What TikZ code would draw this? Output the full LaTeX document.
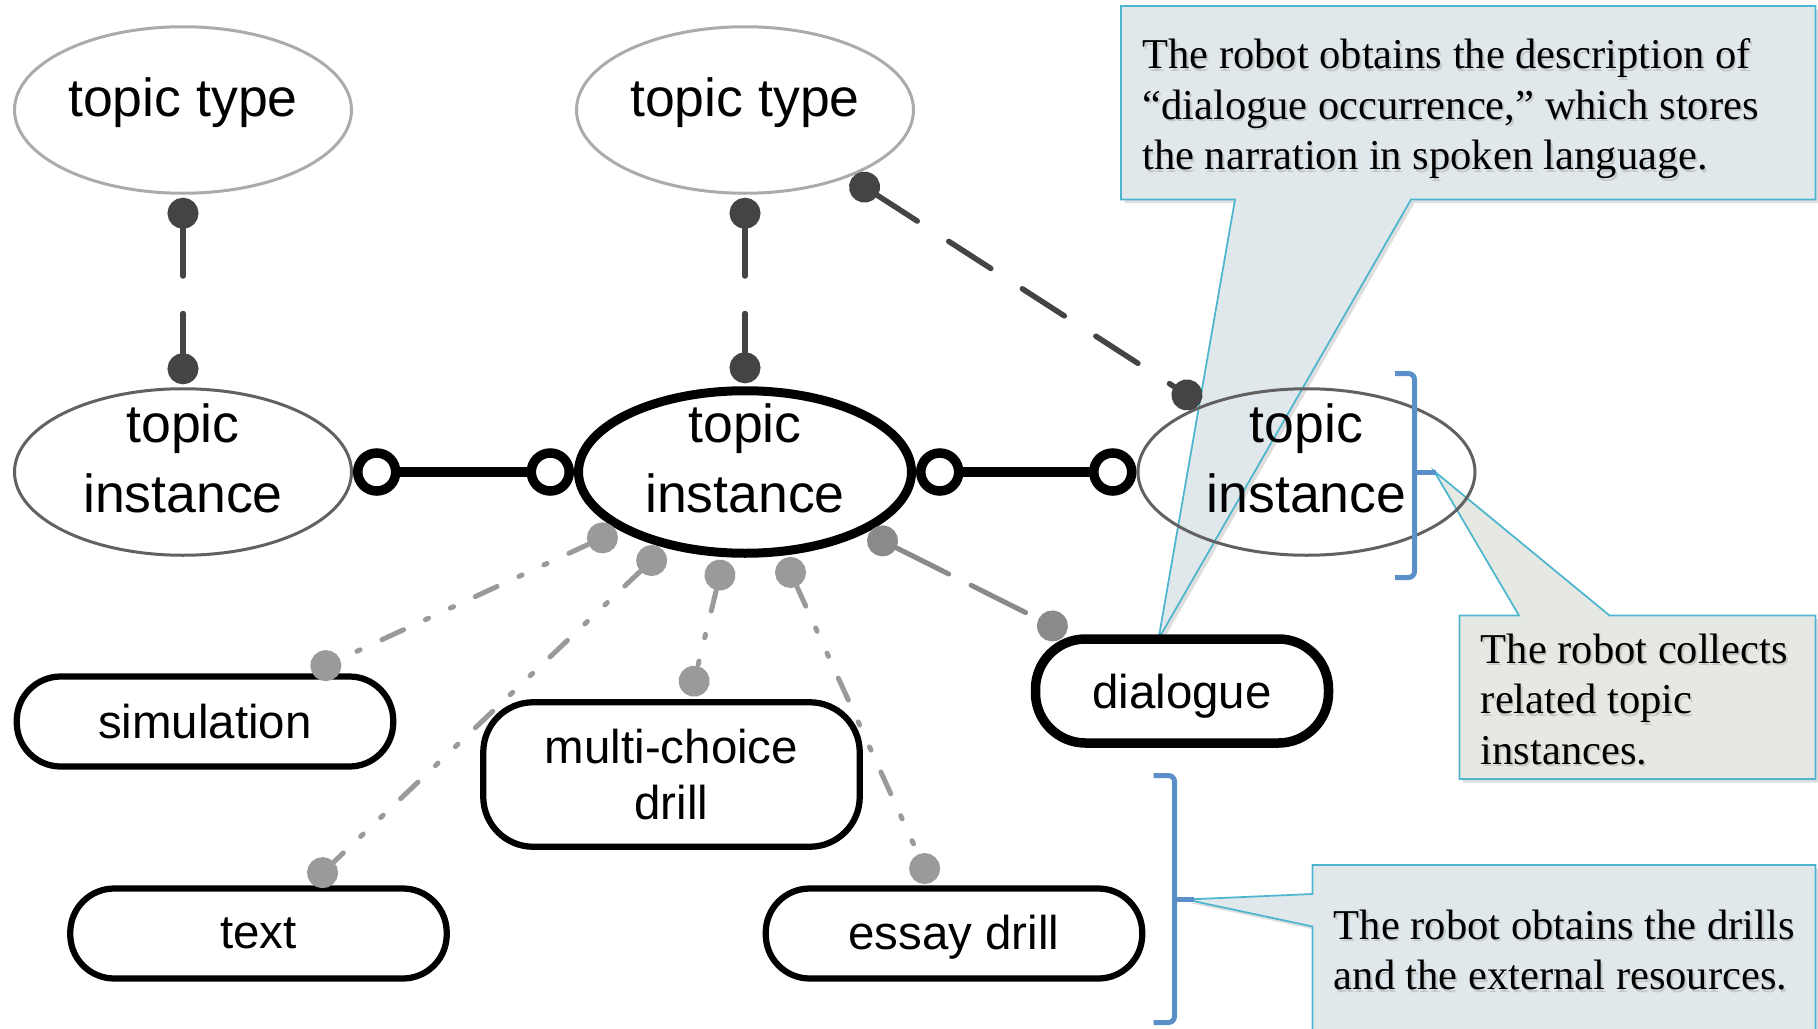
\documentclass[tikz,border=0pt]{standalone}
\usepackage{fontspec}
\setmainfont{Liberation Serif}
\setsansfont{Liberation Sans}
\usetikzlibrary{arrows.meta,shapes.geometric,calc,backgrounds}
\definecolor{linkdark}{HTML}{444444}
\definecolor{linklight}{HTML}{9A9A9A}
\definecolor{linkmid}{HTML}{8A8A8A}
\definecolor{notefill}{HTML}{E1E8EB}
\definecolor{notegreen}{HTML}{E6E9E3}
\definecolor{noteedge}{HTML}{4DB6CE}
\definecolor{braceblue}{HTML}{5B8FC9}
\tikzset{
 tm type/.style={ellipse,draw=black!33,line width=.06cm,minimum width=6.74cm,
   minimum height=3.33cm,inner sep=0pt,align=center,text depth=.5cm,
   font=\sffamily\fontsize{30.5}{39.5}\selectfont},
 tm inst/.style={tm type,draw=black!62,text depth=.56cm,inner ysep=-.3cm},
 tm focus/.style={tm inst,draw=black,line width=.18cm,minimum width=6.66cm,minimum height=3.25cm},
 tm res/.style={draw=black,line width=.125cm,rounded corners=.88cm,minimum width=7.53cm,
   minimum height=1.8cm,align=center,font=\sffamily\fontsize{27}{31.6}\selectfont},
 tm typing/.style={{Circle[length=.62cm]}-{Circle[length=.62cm]},draw=linkdark,
   line width=.11cm,line cap=round,dash pattern=on 1cm off .75cm,
   shorten <=.06cm,shorten >=.06cm},
 tm assoc/.style={{Circle[open,length=.95cm]}-{Circle[open,length=.95cm]},draw=black,
   line width=.19cm},
 tm occur/.style={{Circle[length=.62cm]}-{Circle[length=.62cm]},draw=linklight,
   line width=.1cm,line cap=round,
   dash pattern=on .48cm off .48cm on .07cm off .48cm on .07cm off .48cm,
   shorten <=.06cm,shorten >=.06cm},
 tm talk/.style={tm occur,draw=linkmid,dash pattern=on 1.22cm off .5cm},
 tm note/.style={draw=noteedge,line width=.035cm,fill=notefill,
   preaction={fill=black,opacity=.13,transform canvas={shift={(.07,-.07)}}}},
 tm note text/.style={anchor=base west,inner sep=0pt,align=left,
   font=\rmfamily\fontsize{24.2}{28.6}\selectfont},
 tm brace/.style={draw=braceblue,line width=.1cm,rounded corners=.12cm}
}
% note text with its soft shadow underneath (anchored at the last baseline)
\newcommand\notetext[3]{%
 \node[tm note text,text=black!50,opacity=.3,xshift=.035cm,yshift=-.05cm] at #1 {#3};
 \node[tm note text] (#2) at #1 {#3};}

\begin{document}
\begin{tikzpicture}[line join=round]
\useasboundingbox (0,0) rectangle (36.36,-20.58);
% types and instances
\node[tm type] (type1) at (3.66,-2.20) {topic type};
\node[tm type] (type2) at (14.90,-2.20) {topic type};
\node[tm inst] (inst1) at (3.66,-9.44) {topic\\instance};
\node[tm focus] (inst2) at (14.90,-9.44) {topic\\instance};
\node[tm inst] (inst3) at (26.13,-9.44) {topic\\instance};
% occurrences
\node[tm res] (sim) at (4.10,-14.43) {simulation};
\node[tm res,minimum height=2.89cm,rounded corners=1cm] (mcd) at (13.43,-15.49) {multi-choice\\drill};
\node[tm res] (txt) at (5.17,-18.67) {text};
\node[tm res,text height=.83cm] (essay) at (19.08,-18.67) {essay drill};
\node[tm res,line width=.19cm,minimum width=5.86cm,minimum height=2.08cm,
  rounded corners=1cm,text height=.88cm] (dlg) at (23.64,-13.82) {dialogue};

\draw[tm typing] (type1) -- (inst1);
\draw[tm typing] (type2) -- (inst2);
\draw[tm typing] (type2) -- (inst3);
\draw[tm assoc] (inst1) -- (inst2);
\draw[tm assoc] (inst2) -- (inst3);
\draw[tm occur] (inst2) -- (sim);
\draw[tm occur] (inst2) -- (txt);
\draw[tm occur] (inst2) -- (mcd);
\draw[tm occur] (inst2) -- (essay);
\draw[tm talk] (inst2) -- (dlg);

% brackets
\draw[tm brace] (27.90,-7.47) -- (28.29,-7.47) -- (28.29,-11.55) -- (27.90,-11.55);
\draw[tm brace,rounded corners=0pt] (28.29,-9.44) -- (28.71,-9.44);
\draw[tm brace] (23.07,-15.51) -- (23.49,-15.51) -- (23.49,-20.45) -- (23.07,-20.45);
\draw[tm brace,rounded corners=0pt] (23.49,-17.99) -- (23.88,-17.99);

\coordinate (tip1) at (23.17,-12.78);
\coordinate (tip2) at (28.68,-9.42);
\coordinate (tip3) at (23.72,-17.99);
\begin{scope}[on background layer]
\draw[tm note] (22.42,-.12) -- (36.31,-.12) -- (36.31,-3.99) -- (28.22,-3.99)
  -- (tip1) -- (24.70,-3.99) -- (22.42,-3.99) -- cycle;
\draw[tm note,fill=notegreen] (29.19,-12.31) -- (30.38,-12.31) -- (tip2)
  -- (32.19,-12.31) -- (36.31,-12.31) -- (36.31,-15.58) -- (29.19,-15.58) -- cycle;
\draw[tm note] (26.25,-17.30) -- (36.31,-17.30) -- (36.31,-21) -- (26.25,-21)
  -- (26.25,-18.53) -- (tip3) -- (26.25,-17.88) -- cycle;
\end{scope}
\notetext{(22.84,-3.39)}{note1}{The robot obtains the description of\\“dialogue occurrence,” which stores\\the narration in spoken language.}
\notetext{(29.61,-15.28)}{note2}{The robot collects\\related topic\\instances.}
\notetext{(26.67,-19.79)}{note3}{The robot obtains the drills\\and the external resources.}
\end{tikzpicture}
\end{document}
